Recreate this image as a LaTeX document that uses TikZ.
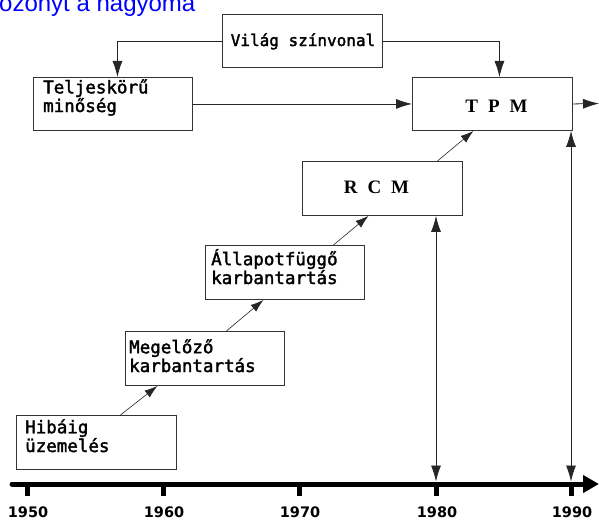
\documentclass[tikz,border=0pt]{standalone}
\usepackage{fontspec}
\setmainfont{DejaVu Sans Mono}
\newfontfamily\boxfont{DejaVu Sans Mono}[FakeBold=2]
\newfontfamily\serfont{Liberation Serif}
\newfontfamily\yearfont{DejaVu Sans}
\newfontfamily\topfont{Liberation Sans}
\usetikzlibrary{arrows.meta,calc}
\tikzset{
  box/.style={draw=black!80, line width=0.9pt, anchor=north west, inner sep=0pt},
  txt/.style={anchor=base west, inner sep=0pt, align=left, font=\boxfont\fontsize{17.5}{16}\selectfont},
  acro/.style={anchor=base, inner sep=0pt, font=\serfont\bfseries\fontsize{19}{19}\selectfont},
  conn/.style={draw=black!85, line width=0.8pt, -{Latex[length=16pt,width=10pt]}},
  dconn/.style={draw=black!85, line width=0.8pt, {Latex[length=16pt,width=10pt]}-{Latex[length=16pt,width=10pt]}},
  diag/.style={draw=black!85, line width=0.6pt, -{Latex[length=13pt,width=8.5pt]}},
  yearlbl/.style={anchor=base, font=\yearfont\bfseries\fontsize{14.5}{14.5}\selectfont, inner sep=0pt},
  tick/.style={fill=black, draw=none},
}
\begin{document}
\begin{tikzpicture}[x=1pt,y=-1pt]
\useasboundingbox (0,0) rectangle (599,519);
% clipped blue heading
\node[anchor=base west, inner sep=0pt, text=blue, font=\topfont\fontsize{24}{24}\selectfont] (head) at (-1,12) {ozonyt a nagyoma};

% boxes
\node[box, minimum width=160pt, minimum height=53pt] (vil) at (222,14) {};
\node[box, minimum width=159pt, minimum height=53pt] (tel) at (33,77) {};
\node[box, minimum width=160pt, minimum height=53pt] (tpm) at (412,77) {};
\node[box, minimum width=160pt, minimum height=54pt] (rcm) at (302,161) {};
\node[box, minimum width=159pt, minimum height=54pt] (all) at (205,245) {};
\node[box, minimum width=159pt, minimum height=54pt] (meg) at (125,331) {};
\node[box, minimum width=160pt, minimum height=54pt] (hib) at (16,415) {};

% box texts (base = baseline of the last line)
\node[txt, anchor=base, font=\boxfont\fontsize{16}{16}\selectfont] (vilt) at (303,46) {Világ színvonal};
\node[txt] (telt) at (43,112) {Teljeskörű\\minőség};
\node[acro] (tpmt) at (496.5,112) {T\hspace{10pt}P\hspace{10pt}M};
\node[acro] (rcmt) at (376.5,193) {R\hspace{10pt}C\hspace{10pt}M};
\node[txt] (allt) at (211,284) {Állapotfüggő\\karbantartás};
\node[txt] (megt) at (129,372) {Megelőző\\karbantartás};
\node[txt] (hibt) at (25,452) {Hibáig\\üzemelés};

% timeline
\coordinate (tstart) at (12,484);
\coordinate (tend) at (599,484);
\draw[line width=5pt, line cap=round, -{Triangle[length=16pt,width=17pt]}] (tstart) -- (tend);
\foreach \x/\y in {27/1950,163/1960,299/1970,436/1980,571/1990}{
  \coordinate (t\y) at (\x,484);
  \fill[tick] (\x-2.5,484) rectangle (\x+2.5,496);
  \node[yearlbl] (y\y) at (\x+1,517) {\y};
}

% connectors
\draw[conn] (vil.west) -| ([xshift=4.5pt]tel.north);
\draw[conn] (vil.east) -| ([xshift=7pt]tpm.north);
\draw[conn] (tel.east) -- (tpm.west);
\coordinate (out) at (599,103.5);
\draw[conn] (tpm.east) -- (out);

\draw[diag] ([xshift=24pt]hib.north) -- ([xshift=-47.5pt]meg.south);
\draw[diag] ([xshift=21.5pt]meg.north) -- ([xshift=-21.5pt]all.south);
\draw[diag] ([xshift=48.5pt]all.north) -- ([xshift=-14pt]rcm.south);
\draw[diag] ([xshift=55pt]rcm.north) -- ([xshift=-19pt]tpm.south);

\draw[dconn, shorten >=2.5pt] (t1980 |- rcm.south) -- (t1980);
\draw[dconn, shorten >=2.5pt] (t1990 |- tpm.south) -- (t1990);
\end{tikzpicture}
\end{document}
